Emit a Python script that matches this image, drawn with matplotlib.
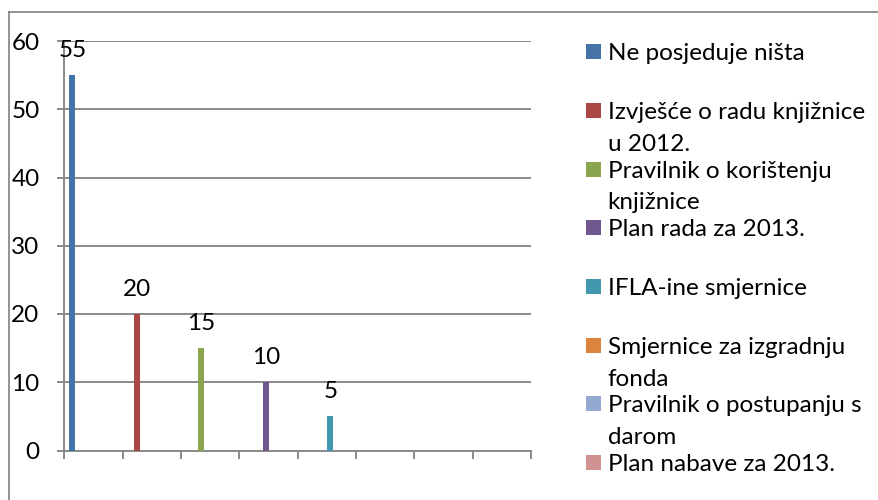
import matplotlib
matplotlib.use('Agg')
import matplotlib.pyplot as plt
import numpy as np
from matplotlib.patches import Rectangle
from matplotlib.lines import Line2D

plt.rcParams['font.family'] = ['Lato', 'DejaVu Sans']

categories = [
    "Ne posjeduje ništa",
    "Izvješće o radu knjižnice\nu 2012.",
    "Pravilnik o korištenju\nknjižnice",
    "Plan rada za 2013.",
    "IFLA-ine smjernice",
    "Smjernice za izgradnju\nfonda",
    "Pravilnik o postupanju s\ndarom",
    "Plan nabave za 2013.",
]
values = [55, 20, 15, 10, 5, 0, 0, 0]
colors = ['#4572A7', '#AA4643', '#89A54E', '#71588F',
          '#4198AF', '#DB843D', '#93A9CF', '#D19392']
yticks = [0, 10, 20, 30, 40, 50, 60]

W, H = 879, 500
FS = 17.5
GRID = '#8a8a8a'

fig = plt.figure(figsize=(W / 100, H / 100), dpi=100)
fig.patch.set_facecolor('white')

def fx(x):
    return x / W

def fy(y):
    return 1 - y / H

ax = fig.add_axes([fx(64.5), fy(450.5), (531 - 64.5) / W, (450.5 - 41) / H])
n = len(values)
xs = 0.134 + np.arange(n) * 1.106
ax.bar(xs, values, width=0.1, color=colors, zorder=3)
ax.set_xlim(0, n)
ax.set_ylim(yticks[0], yticks[-1])
ax.set_xticks(np.arange(n + 1))
ax.set_xticklabels([])
ax.set_yticks(yticks)
ax.set_yticklabels([str(t) for t in yticks], fontsize=FS)
ax.yaxis.grid(True, color=GRID, lw=1.4, zorder=0)
ax.set_axisbelow(True)
for s in ['top', 'right']:
    ax.spines[s].set_visible(False)
for s in ['left', 'bottom']:
    ax.spines[s].set_color(GRID)
    ax.spines[s].set_linewidth(1.4)
ax.tick_params(axis='y', direction='out', length=5, width=1.4, color=GRID, pad=13)
ax.tick_params(axis='x', direction='out', length=5.8, width=1.4, color=GRID)

for x, v in zip(xs, values):
    if v > 0:
        ax.annotate(str(v), (x, v), xytext=(0, 18), textcoords='offset points',
                    ha='center', va='center', fontsize=FS, color='black')

# chart border
fig.add_artist(Line2D([fx(8.5), fx(8.5)], [0, fy(12)], transform=fig.transFigure,
                      color=GRID, lw=1.3))
fig.add_artist(Line2D([fx(8.5), 1], [fy(12), fy(12)], transform=fig.transFigure,
                      color=GRID, lw=1.3))

# legend
for i, (lab, c) in enumerate(zip(categories, colors)):
    cy = 51.7 + i * 58.7
    fig.add_artist(Rectangle((fx(586), fy(cy + 7.5)), 15 / W, 15 / H,
                             transform=fig.transFigure, color=c, lw=0))
    for j, line in enumerate(lab.split('\n')):
        fig.text(fx(607.7), fy(cy + 8.6 + j * 31.7), line, fontsize=FS,
                 ha='left', va='baseline', color='black')

fig.savefig('out.png', dpi=100)
